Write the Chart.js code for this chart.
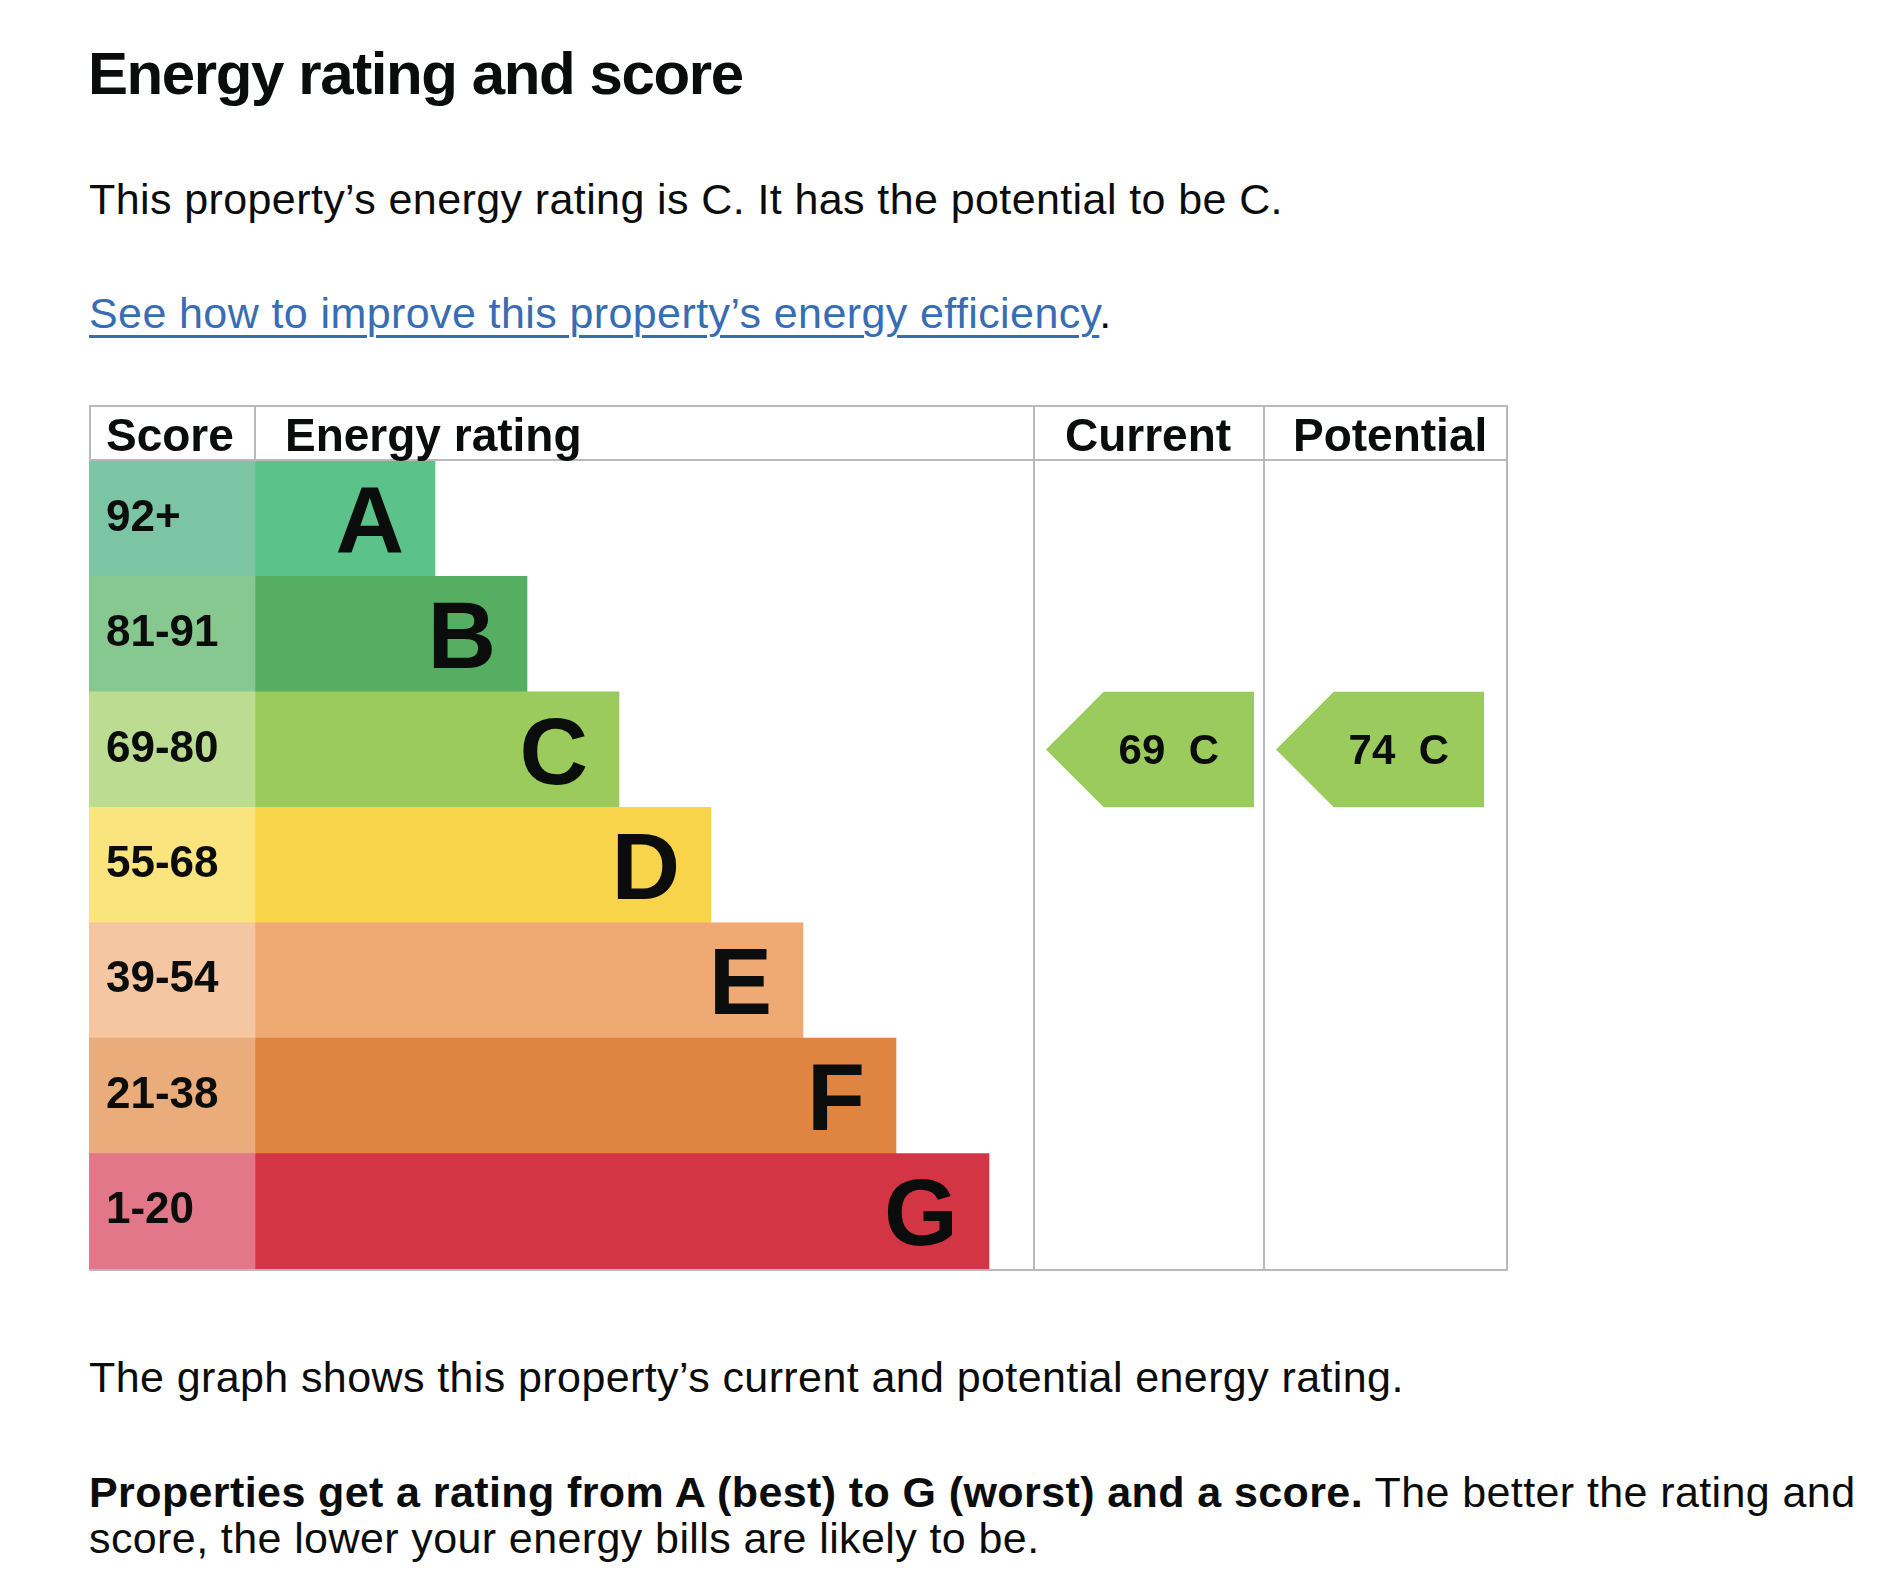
<!DOCTYPE html>
<html lang="en">
<head>
  <meta charset="UTF-8" />
  <title>Energy rating and score</title>
  <script src="https://cdn.jsdelivr.net/npm/chart.js"></script>
  <style>
    body {
      margin: 0;
      background: #ffffff;
      color: #0b0c0c;
      font-family: "Liberation Sans", Arial, sans-serif;
    }
    .block {
      position: absolute;
      left: 89px;
      margin: 0;
      white-space: nowrap;
    }
    h2.block {
      top: 44px;
      left: 88px;
      font-size: 60px;
      line-height: 60px;
      font-weight: bold;
      letter-spacing: -1.4px;
    }
    p.block {
      font-size: 43px;
      line-height: 47px;
      letter-spacing: 0.4px;
    }
    a {
      color: #376db3;
      text-decoration: underline;
      text-decoration-thickness: 3px;
      text-underline-offset: 7px;
    }
    #chartBox {
      position: absolute;
      left: 80px;
      top: 390px;
      width: 1440px;
      height: 890px;
    }
  </style>
</head>
<body>

  <h2 class="block">Energy rating and score</h2>

  <p class="block" style="top: 176px;">This property’s energy rating is C. It has the potential to be C.</p>

  <p class="block" style="top: 290px;"><a href="#">See how to improve this property’s energy efficiency</a>.</p>

  <div id="chartBox">
    <canvas id="epcChart"></canvas>
  </div>

  <p class="block" style="top: 1354px;">The graph shows this property’s current and potential energy rating.</p>

  <p class="block" style="top: 1469px; line-height: 46px;"><b>Properties get a rating from A (best) to G (worst) and a score.</b> The better the rating and<br>score, the lower your energy bills are likely to be.</p>

<script>
  // bands, top (best) to bottom (worst)
  const bands = ['A', 'B', 'C', 'D', 'E', 'F', 'G'];
  const scoreRanges = ['92+', '81-91', '69-80', '55-68', '39-54', '21-38', '1-20'];
  const bandMinScores = [92, 81, 69, 55, 39, 21, 1];
  // length of each rating bar
  const barLengths = [180, 272, 364, 456, 548, 641, 734];

  const currentScore = 69;
  const potentialScore = 74;

  const bandColours = ['#5bc389', '#55ae62', '#9bcb5c', '#f8d44a', '#efaa73', '#e08442', '#d43545'];
  const scoreColours = ['#7bc4a4', '#87c891', '#bcdd91', '#fae47d', '#f4c6a1', '#e9ac7a', '#e17788'];

  // column edges on the x scale
  const cols = {
    score: -166,
    rating: 0,
    current: 780,
    potential: 1010,
    end: 1253
  };
  const headerHeight = 56;
  const lineColour = '#b8b9ba';
  const textColour = '#0b0c0c';
  const fontFamily = '"Liberation Sans", Arial, sans-serif';

  function bandFor(score) {
    for (let i = 0; i < bandMinScores.length; i++) {
      if (score >= bandMinScores[i]) return i;
    }
    return bands.length - 1;
  }

  const epcTable = {
    id: 'epcTable',
    afterDatasetsDraw(chart) {
      const { ctx, chartArea, scales: { x, y } } = chart;
      const bars = chart.getDatasetMeta(1).data;
      const top = chartArea.top - headerHeight;
      const bottom = chartArea.bottom;
      const px = v => x.getPixelForValue(v);

      ctx.save();

      // grid lines
      ctx.strokeStyle = lineColour;
      ctx.lineWidth = 2;
      ctx.beginPath();
      ctx.moveTo(px(cols.score), top + 1);
      ctx.lineTo(px(cols.end), top + 1);
      ctx.moveTo(px(cols.score), chartArea.top - 1);
      ctx.lineTo(px(cols.end), chartArea.top - 1);
      ctx.moveTo(px(cols.score), bottom + 1);
      ctx.lineTo(px(cols.end), bottom + 1);
      ctx.moveTo(px(cols.score) + 1, top);
      ctx.lineTo(px(cols.score) + 1, chartArea.top);
      ctx.moveTo(px(cols.rating), top);
      ctx.lineTo(px(cols.rating), chartArea.top);
      [cols.current, cols.potential, cols.end].forEach(v => {
        ctx.moveTo(px(v) - 1, top);
        ctx.lineTo(px(v) - 1, bottom + 2);
      });
      ctx.stroke();

      ctx.fillStyle = textColour;
      ctx.textAlign = 'left';
      ctx.textBaseline = 'alphabetic';

      // header row
      ctx.font = 'bold 46px ' + fontFamily;
      const headY = chartArea.top - 10;
      ctx.fillText('Score', px(cols.score) + 17, headY);
      ctx.fillText('Energy rating', px(cols.rating) + 30, headY);
      ctx.fillText('Current', px(cols.current) + 30, headY);
      ctx.fillText('Potential', px(cols.potential) + 28, headY);

      // score ranges and band letters
      bands.forEach((band, i) => {
        const cy = y.getPixelForValue(i);
        ctx.textAlign = 'left';
        ctx.font = 'bold 44px ' + fontFamily;
        ctx.fillText(scoreRanges[i], px(cols.score) + 17, cy + 12);
        ctx.textAlign = 'right';
        ctx.font = 'bold 95px ' + fontFamily;
        ctx.fillText(band, bars[i].x - 31, cy + 34);
      });

      // current and potential arrows
      [[currentScore, cols.current], [potentialScore, cols.potential]].forEach(([score, col]) => {
        const i = bandFor(score);
        const bar = bars[i];
        const half = bar.height / 2;
        const cy = bar.y;
        const left = px(col) + 11;
        const right = left + 208;
        ctx.fillStyle = bandColours[i];
        ctx.beginPath();
        ctx.moveTo(left, cy);
        ctx.lineTo(left + half, cy - half);
        ctx.lineTo(right, cy - half);
        ctx.lineTo(right, cy + half);
        ctx.lineTo(left + half, cy + half);
        ctx.closePath();
        ctx.fill();

        ctx.fillStyle = textColour;
        ctx.textAlign = 'right';
        ctx.font = 'bold 42px ' + fontFamily;
        ctx.fillText(score + '  ' + bands[i], right - 35, cy + 14);
      });

      ctx.restore();
    }
  };

  new Chart(document.getElementById('epcChart'), {
    type: 'bar',
    data: {
      labels: bands,
      datasets: [
        {
          label: 'Score',
          data: bands.map(() => [cols.score, cols.rating]),
          backgroundColor: scoreColours,
          grouped: false,
          barPercentage: 1,
          categoryPercentage: 1,
          borderWidth: 0
        },
        {
          label: 'Energy rating',
          data: barLengths.map(v => [cols.rating, v]),
          backgroundColor: bandColours,
          grouped: false,
          barPercentage: 1,
          categoryPercentage: 1,
          borderWidth: 0
        }
      ]
    },
    options: {
      indexAxis: 'y',
      responsive: true,
      maintainAspectRatio: false,
      animation: false,
      events: [],
      layout: {
        padding: { left: 9, right: 12, top: 71, bottom: 11 }
      },
      plugins: {
        legend: { display: false },
        tooltip: { enabled: false }
      },
      scales: {
        x: { type: 'linear', min: cols.score, max: cols.end, display: false },
        y: { display: false }
      }
    },
    plugins: [epcTable]
  });
</script>

</body>
</html>
